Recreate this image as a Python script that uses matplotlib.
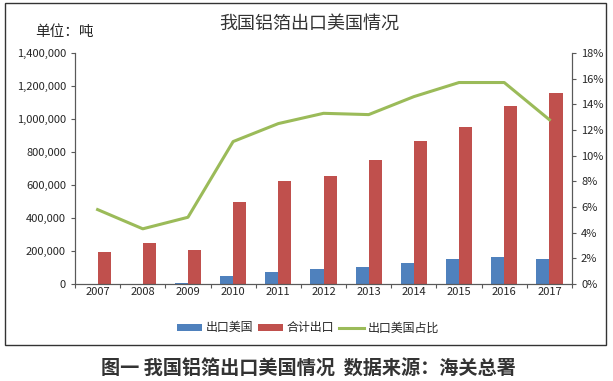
import numpy as np
import matplotlib
matplotlib.use("Agg")
import matplotlib.pyplot as plt
from matplotlib.patches import Rectangle
from matplotlib.ticker import FuncFormatter, FixedLocator

plt.rcParams['font.family'] = ['Noto Sans CJK SC', 'DejaVu Sans']

# ======================== Data =============================
years = ['2007', '2008', '2009', '2010', '2011', '2012', '2013', '2014', '2015', '2016', '2017']
export_us = [3000, 3000, 5000, 48000, 73000, 91000, 103000, 127000, 150000, 164000, 150000]
export_total = [194000, 248000, 206000, 497000, 624000, 655000, 752000, 867000, 952000, 1079000, 1158000]
share_us = [5.8, 4.3, 5.2, 11.1, 12.5, 13.3, 13.2, 14.6, 15.7, 15.7, 12.8]

c_blue = '#4F81BD'
c_red = '#C0504D'
c_green = '#9BBB59'

# ======================== Figure =============================
W, H = 613, 381
fig = plt.figure(figsize=(W/100, H/100), dpi=100, facecolor='white')
ax = fig.add_axes([75/W, 1 - 284/H, 497/W, 231/H])
ax2 = ax.twinx()

x = np.arange(len(years))
w = 0.29
ax.bar(x - w/2, export_us, w, color=c_blue, label='出口美国', zorder=2)
ax.bar(x + w/2, export_total, w, color=c_red, label='合计出口', zorder=2)
ax2.plot(x, share_us, color=c_green, linewidth=2.2, label='出口美国占比', zorder=3)

ax.set_xlim(-0.5, len(years) - 0.5)
ax.set_ylim(0, 1400000)
ax.set_yticks(np.arange(0, 1400001, 200000))
ax.yaxis.set_major_formatter(FuncFormatter(lambda v, p: f'{int(v):,}'))
ax2.set_ylim(0, 18)
ax2.set_yticks(np.arange(0, 19, 2))
ax2.yaxis.set_major_formatter(FuncFormatter(lambda v, p: f'{int(v)}%'))

# category labels centred, tick marks between categories
ax.xaxis.set_major_locator(FixedLocator(np.arange(-0.5, len(years), 1.0)))
ax.set_xticklabels([])
ax.xaxis.set_minor_locator(FixedLocator(x))
ax.set_xticklabels(years, minor=True)
ax.tick_params(axis='x', which='minor', length=0, labelsize=8, pad=2, colors='#262626')
ax.tick_params(axis='x', which='major', length=3, direction='out', color='#595959')
ax.tick_params(axis='y', labelsize=8, length=3, direction='out', labelcolor='#262626', color='#595959')
ax2.tick_params(axis='y', labelsize=8, length=3, direction='out', labelcolor='#262626', color='#595959')

for a in (ax, ax2):
    a.spines['top'].set_visible(False)
    for s in ('left', 'right', 'bottom'):
        a.spines[s].set_color('#595959')
        a.spines[s].set_linewidth(0.8)

# legend
h1, l1 = ax.get_legend_handles_labels()
h2, l2 = ax2.get_legend_handles_labels()
fig.legend(h1 + h2, l1 + l2, loc='center', bbox_to_anchor=(308/W, 1 - 328/H), ncol=3,
           frameon=False, fontsize=8.6, handlelength=2.1, handleheight=0.5,
           columnspacing=0.4, handletextpad=0.3, labelcolor='#262626')

# texts
fig.text(309.5/W, 1 - 24/H, '我国铝箔出口美国情况', ha='center', va='center', fontsize=13, color='#333333')
fig.text(35/W, 1 - 32/H, '单位：吨', ha='left', va='center', fontsize=10.5, color='#262626')
fig.text(308.5/W, 1 - 369/H, '图一 我国铝箔出口美国情况  数据来源：海关总署', ha='center', va='center',
         fontsize=13.8, fontweight='bold', color='#333333')

# outer border
fig.patches.append(Rectangle((5/W, 1 - 345/H), 601/W, 342/H, transform=fig.transFigure,
                             fill=False, edgecolor='#333333', linewidth=1.0))

fig.savefig('out.png', dpi=100, facecolor='white')
